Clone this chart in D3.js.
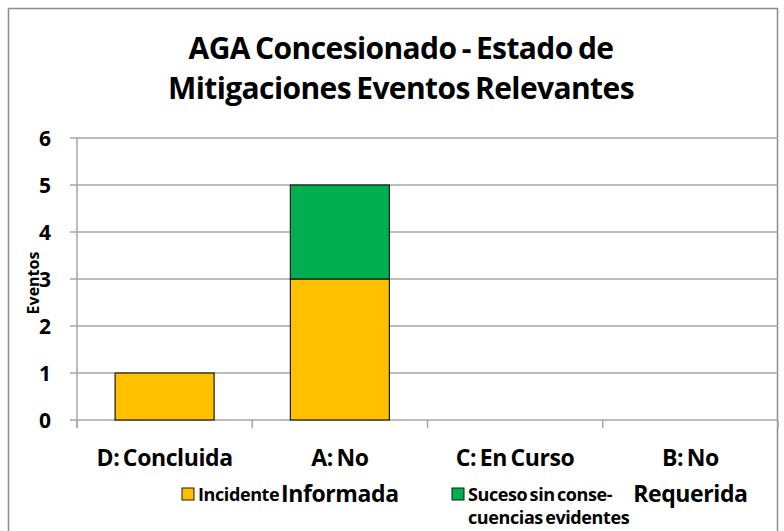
<!DOCTYPE html>
<html>
<head>
<meta charset="utf-8">
<script src="https://cdn.jsdelivr.net/npm/d3@7"></script>
<style>
  body { margin: 0; background: #fff; }
  text { font-family: "Open Sans", Lato, sans-serif; font-weight: bold; fill: #000; word-spacing: -2px; }
</style>
</head>
<body>
<div id="chart"></div>
<script>
// data
const categories = ["D: Concluida", "A: No Informada", "C: En Curso", "B: No Requerida"];
const categoryLines = [["D: Concluida"], ["A: No", "Informada"], ["C: En Curso"], ["B: No", "Requerida"]];
const seriesNames = ["Incidente", "Suceso sin consecuencias evidentes"];
const incidente = [1, 3, 0, 0];
const suceso = [0, 2, 0, 0];
const yTicks = [0, 1, 2, 3, 4, 5, 6];
const colors = ["#FFC000", "#00B050"];

const width = 784, height = 531;
const margin = {top: 138, right: 6, bottom: 111, left: 77};

const svg = d3.select("#chart").append("svg")
  .attr("width", width)
  .attr("height", height);

// outer chart border
svg.append("rect")
  .attr("x", 8.5).attr("y", 8.5)
  .attr("width", 769).attr("height", 540)
  .attr("fill", "none")
  .attr("stroke", "#8c8c8c")
  .attr("stroke-width", 1.5);

// title
const title = svg.append("text")
  .attr("text-anchor", "middle")
  .style("font-size", "30px")
  .style("letter-spacing", "-0.6px");
title.append("tspan").attr("x", 401).attr("y", 59).text("AGA Concesionado - Estado de");
title.append("tspan").attr("x", 401).attr("y", 99).text("Mitigaciones Eventos Relevantes");

const x = d3.scaleBand()
  .domain(categories)
  .range([margin.left, width - margin.right])
  .paddingInner(0.435)
  .paddingOuter(0.2175);

const y = d3.scaleLinear()
  .domain([0, 6])
  .range([height - margin.bottom, margin.top]);

// gridlines
svg.append("g")
  .selectAll("line")
  .data(yTicks)
  .join("line")
  .attr("x1", margin.left - 7)
  .attr("x2", width - margin.right)
  .attr("y1", d => y(d))
  .attr("y2", d => y(d))
  .attr("stroke", "#a6a6a6")
  .attr("stroke-width", 1.5);

// y axis line
svg.append("line")
  .attr("x1", margin.left).attr("x2", margin.left)
  .attr("y1", y(6)).attr("y2", y(0) + 7)
  .attr("stroke", "#a6a6a6")
  .attr("stroke-width", 1.5);

// category tick marks
const step = x.step();
const tickXs = d3.range(categories.length + 1).map(i => margin.left + i * step);
svg.append("g")
  .selectAll("line")
  .data(tickXs)
  .join("line")
  .attr("x1", d => d).attr("x2", d => d)
  .attr("y1", y(0)).attr("y2", y(0) + 8)
  .attr("stroke", "#a6a6a6")
  .attr("stroke-width", 1.5);

// y tick labels
svg.append("g")
  .selectAll("text")
  .data(yTicks)
  .join("text")
  .attr("x", margin.left - 26)
  .attr("y", d => y(d))
  .attr("dy", "0.36em")
  .attr("text-anchor", "end")
  .style("font-size", "21px")
  .text(d => d);

// y axis title
svg.append("text")
  .attr("transform", `translate(39,${(y(0) + y(6)) / 2 + 4}) rotate(-90)`)
  .attr("text-anchor", "middle")
  .style("font-size", "16px")
  .text("Eventos");

// stacked bars
const rows = categories.map((c, i) => ({cat: c, incidente: incidente[i], suceso: suceso[i]}));
const stack = d3.stack().keys(["incidente", "suceso"])(rows);

svg.append("g")
  .selectAll("g")
  .data(stack)
  .join("g")
  .attr("fill", (d, i) => colors[i])
  .selectAll("rect")
  .data(d => d.filter(p => p[1] > p[0]))
  .join("rect")
  .attr("x", d => x(d.data.cat))
  .attr("width", x.bandwidth())
  .attr("y", d => y(d[1]))
  .attr("height", d => y(d[0]) - y(d[1]))
  .attr("stroke", "#1a1a1a")
  .attr("stroke-width", 1.2);

// category labels
svg.append("g")
  .selectAll("text")
  .data(categories)
  .join("text")
  .attr("text-anchor", "middle")
  .style("font-size", "23px")
  .style("letter-spacing", "-0.4px")
  .each(function (d, i) {
    const t = d3.select(this);
    categoryLines[i].forEach((line, j) => {
      t.append("tspan")
        .attr("x", x(d) + x.bandwidth() / 2)
        .attr("y", 466 + j * 36)
        .text(line);
    });
  });

// legend
const legendItems = [
  {x: 182, lines: ["Incidente"]},
  {x: 452, lines: ["Suceso sin conse-", "cuencias evidentes"]}
];
const legend = svg.append("g")
  .selectAll("g")
  .data(legendItems)
  .join("g");
legend.append("rect")
  .attr("x", d => d.x)
  .attr("y", 488)
  .attr("width", 12)
  .attr("height", 12)
  .attr("fill", (d, i) => colors[i])
  .attr("stroke", "#1a1a1a")
  .attr("stroke-width", 1);
legend.append("text")
  .style("font-size", "18px")
  .style("letter-spacing", "-0.4px")
  .each(function (d) {
    const t = d3.select(this);
    d.lines.forEach((line, j) => {
      t.append("tspan")
        .attr("x", d.x + 16)
        .attr("y", 501 + j * 23)
        .text(line);
    });
  });
</script>
</body>
</html>
